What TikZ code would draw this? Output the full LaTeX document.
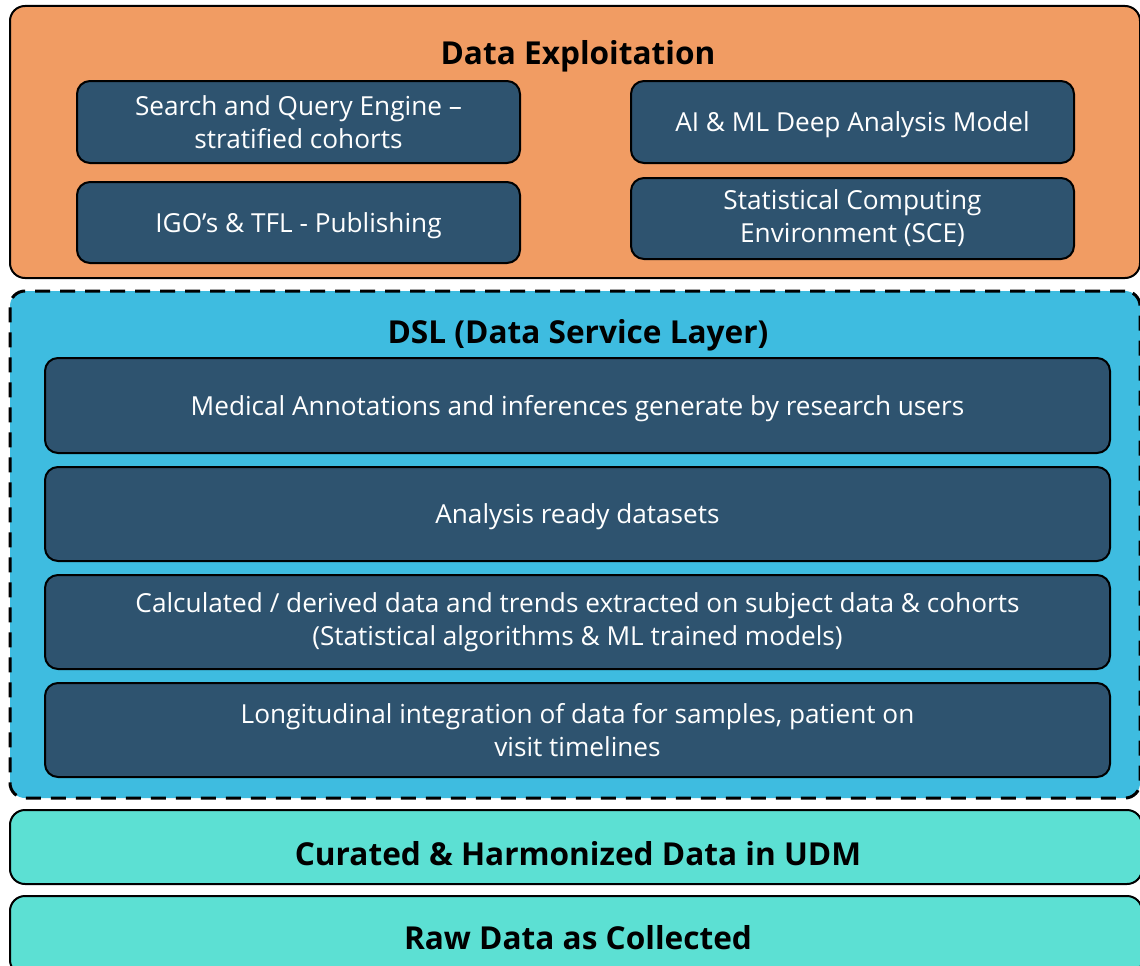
\documentclass[tikz,border=0pt]{standalone}
\usepackage{fontspec}
\setmainfont{Open Sans}
\definecolor{exploitorange}{HTML}{F19C63}
\definecolor{dslblue}{HTML}{3EBCE0}
\definecolor{cellblue}{HTML}{2E536F}
\definecolor{dataturq}{HTML}{5CE0D3}
\begin{document}
\begin{tikzpicture}[x=1pt,y=-1pt,
  layer/.style={draw=black,line width=2pt,rounded corners=15pt,inner sep=0pt},
  cell/.style={draw=black,line width=2pt,fill=cellblue,rounded corners=13pt,text=white,
    align=center,font=\fontsize{26.2}{33}\selectfont,inner sep=0pt},
  one line/.style={text depth=0pt},
  title/.style={font=\fontsize{31.6}{36}\selectfont\bfseries,text=black,text depth=0pt}]

  \useasboundingbox (0,0) rectangle (1140,966);

  % exploitation layer
  \node[layer,fill=exploitorange,minimum width=1130pt,minimum height=272pt] (exploit) at (575,142){};
  \node[title] (exploittitle) at (578,52){Data Exploitation};
  \node[cell,minimum width=443pt,minimum height=82pt] (sqe) at (298.5,122){Search and Query Engine --\\stratified cohorts};
  \node[cell,one line,minimum width=443pt,minimum height=81pt] (igo) at (298.5,222.5){IGO’s \& TFL - Publishing};
  \node[cell,one line,minimum width=443pt,minimum height=82pt] (aiml) at (852.5,122){AI \& ML Deep Analysis Model};
  \node[cell,minimum width=443pt,minimum height=81pt] (sce) at (852.5,218.5){Statistical Computing\\Environment (SCE)};

  % data service layer
  \node[layer,fill=dslblue,dashed,dash pattern=on 15pt off 10pt,line width=3pt,
    minimum width=1130pt,minimum height=507pt] (dsl) at (575,544.5){};
  \node[title] (dsltitle) at (578,331){DSL (Data Service Layer)};
  \node[cell,one line,minimum width=1065pt,minimum height=95pt] (annot) at (577.5,405.5){Medical Annotations and inferences generate by research users};
  \node[cell,one line,minimum width=1065pt,minimum height=94pt] (ready) at (577.5,514){Analysis ready datasets};
  \node[cell,minimum width=1065pt,minimum height=94pt] (derived) at (577.5,622){Calculated / derived data and trends extracted on subject data \& cohorts\\(Statistical algorithms \& ML trained models)};
  \node[cell,minimum width=1065pt,minimum height=94pt] (longi) at (577.5,730){Longitudinal integration of data for samples, patient on\\visit timelines};

  % data layers
  \node[layer,fill=dataturq,minimum width=1132pt,minimum height=74pt] (udm) at (576,847){};
  \node[title] (udmtitle) at (578,853){Curated \& Harmonized Data in UDM};
  \node[layer,fill=dataturq,minimum width=1132pt,minimum height=79pt] (raw) at (576,935.5){};
  \node[title] (rawtitle) at (578,937){Raw Data as Collected};
\end{tikzpicture}
\end{document}
